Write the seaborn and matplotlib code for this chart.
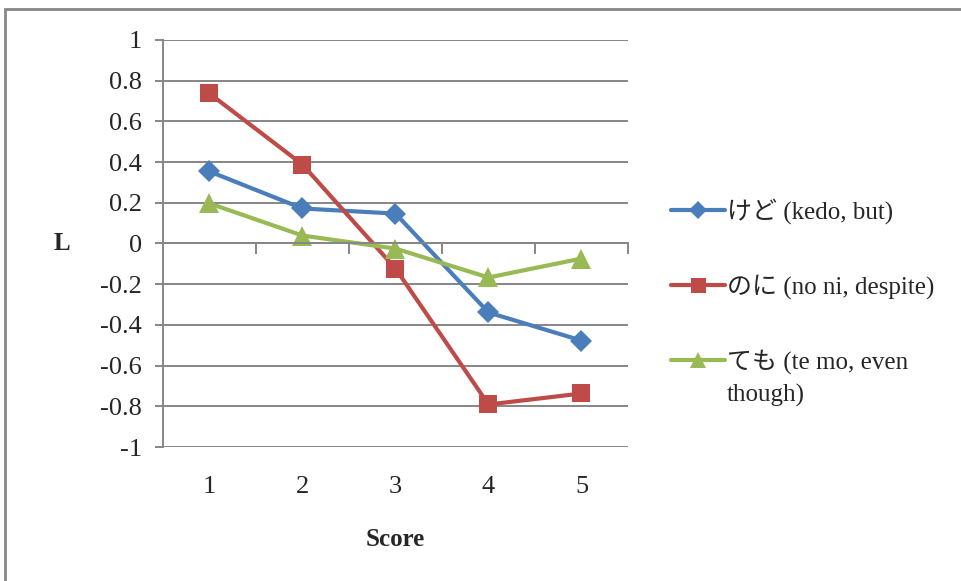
import numpy as np
import pandas as pd
import seaborn as sns
import matplotlib.pyplot as plt
from matplotlib.patches import Rectangle

scores = [1, 2, 3, 4, 5]
kedo = [0.354, 0.172, 0.147, -0.339, -0.477]
noni = [0.737, 0.388, -0.123, -0.791, -0.737]
temo = [0.197, 0.039, -0.025, -0.167, -0.074]

names = ["けど (kedo, but)", "のに (no ni, despite)", "ても (te mo, even"]
farben = ["#4A7EBB", "#BE4B48", "#98B954"]
y_ticks = [1, 0.8, 0.6, 0.4, 0.2, 0, -0.2, -0.4, -0.6, -0.8, -1]

df = pd.DataFrame({
    "Score": scores * 3,
    "L": kedo + noni + temo,
    "reihe": [names[0]] * 5 + [names[1]] * 5 + [names[2]] * 5,
})

sns.set_style("white")
plt.rcParams["font.family"] = ["Liberation Serif", "Noto Sans CJK JP"]
grau = "#868686"

fig = plt.figure(figsize=(9.62, 5.81), dpi=100)
ax = fig.add_axes([0.1694, 0.2306, 0.4834, 0.7006])

sns.lineplot(
    data=df, x="Score", y="L", hue="reihe", style="reihe",
    palette=dict(zip(names, farben)),
    markers=dict(zip(names, ["D", "s", "^"])),
    dashes=False, linewidth=3, markersize=13, markeredgewidth=0,
    ax=ax, legend=True,
)

# marker groessen wie im original
groessen = {"D": 11.5, "s": 13.5, "^": 14}
for line in ax.lines:
    m = line.get_marker()
    if m in groessen:
        line.set_markersize(groessen[m])

ax.set_xlim(0.5, 5.5)
ax.set_ylim(-1, 1)
ax.set_yticks(y_ticks)
ax.set_yticklabels([f"{v:g}" for v in y_ticks], fontsize=19)
ax.yaxis.grid(True, color=grau, lw=1.4)
ax.set_axisbelow(True)

for s in ["top", "right"]:
    ax.spines[s].set_visible(False)
ax.spines["left"].set_color(grau)
ax.spines["left"].set_linewidth(1.4)
ax.spines["bottom"].set_position(("data", 0))
ax.spines["bottom"].set_color(grau)
ax.spines["bottom"].set_linewidth(1.4)

ax.set_xticks(np.arange(1.5, 6, 1))
ax.set_xticklabels([])
ax.tick_params(axis="x", direction="out", length=8, width=1.4, color=grau, bottom=True)
ax.tick_params(axis="y", direction="out", length=6, width=1.4, color=grau, pad=9, left=True)

sek = ax.secondary_xaxis(0)
sek.set_xticks(scores)
sek.set_xticklabels([str(v) for v in scores], fontsize=19)
sek.tick_params(length=0, pad=21)
sek.spines["bottom"].set_visible(False)

ax.set_xlabel("Score", fontsize=18, fontweight="bold", va="center")
ax.xaxis.set_label_coords(0.5, -0.228)
ax.set_ylabel("L", fontsize=18, fontweight="bold", rotation=0, va="center", ha="center")
ax.yaxis.set_label_coords(-0.217, 0.5)

leg = ax.legend(
    loc="upper left", bbox_to_anchor=(0.6745, 0.697), bbox_transform=fig.transFigure,
    frameon=False, fontsize=18, handlelength=2.15, handletextpad=0.08,
    labelspacing=2.0, markerscale=0.8, title=None,
)
ax.annotate("though)", xy=(0, 0), xycoords=leg.get_texts()[2],
            xytext=(0, -7), textcoords="offset points", va="top", ha="left",
            fontsize=18, zorder=10)

fig.patches.append(Rectangle((0.0057, -0.1), 1.2, 1.0837, transform=fig.transFigure,
                             fill=False, edgecolor=grau, lw=2, clip_on=False))

fig.savefig("out.png", dpi=100)
